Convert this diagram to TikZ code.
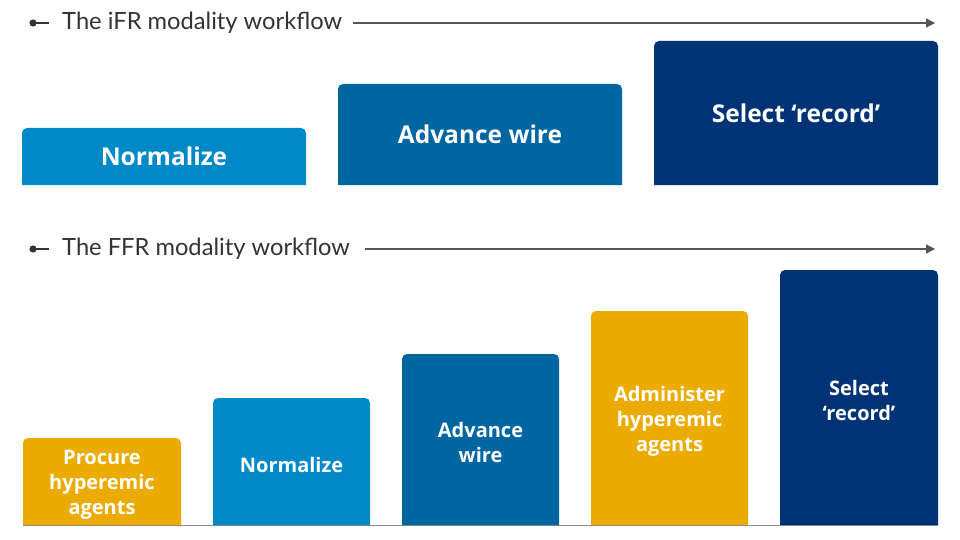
\documentclass[tikz,border=0pt]{standalone}
\usepackage{fontspec}
\setmainfont{Lato}
\newfontfamily\labelfont{Open Sans}
\usetikzlibrary{arrows.meta}
\definecolor{lblue}{RGB}{0,137,200}
\definecolor{mblue}{RGB}{0,102,161}
\definecolor{navy}{RGB}{0,51,117}
\definecolor{gold}{RGB}{235,171,0}
\definecolor{titlegray}{RGB}{51,51,51}
\definecolor{linegray}{RGB}{85,85,85}
\definecolor{basegray}{RGB}{140,140,140}
\tikzset{
  titletext/.style={anchor=west, inner sep=0pt, text=titlegray, font=\fontsize{23.7}{28}\selectfont},
  flowline/.style={draw=linegray, line width=1.3pt},
  flowarrow/.style={flowline, -{Triangle[length=9pt,width=9pt]}},
  bigbox/.style={align=center, text=white, inner sep=0pt, font=\labelfont\bfseries\fontsize{24.5}{28}\selectfont},
  smallbox/.style={align=center, text=white, inner sep=0pt, yshift=-3pt, font=\labelfont\bfseries\fontsize{20}{25}\selectfont},
}
% #1 left, #2 right, #3 top, #4 bottom, #5 colour
\newcommand{\wfshape}[5]{%
  \fill[#5] (#1,#4) [rounded corners=5pt] -- (#1,#3) -- (#2,#3) [sharp corners] -- (#2,#4) -- cycle;}
\begin{document}
\begin{tikzpicture}[x=1pt,y=-1pt]
\useasboundingbox (0,0) rectangle (960,540);
% ---- iFR title
\fill[titlegray] (33,23) circle (3.6pt);
\coordinate (d1) at (33,23);
\coordinate (d1e) at (49,23);
\draw[flowline, titlegray] (d1) -- (d1e);
\node[titletext] (t1) at (62,23) {The iFR modality workflow};
\coordinate (a1s) at (353,23);
\coordinate (a1e) at (935,23);
\draw[flowarrow] (a1s) -- (a1e);
% ---- iFR boxes
\wfshape{22}{306}{128}{185}{lblue}
\wfshape{338}{622}{84}{185}{mblue}
\wfshape{654}{938}{41}{185}{navy}
\node[bigbox] (i1) at (164,156) {Normalize};
\node[bigbox] (i2) at (480,134.5) {Advance wire};
\node[bigbox] (i3) at (796,113) {Select ‘record’};
% ---- FFR title
\fill[titlegray] (33,249) circle (3.6pt);
\coordinate (d2) at (33,249);
\coordinate (d2e) at (49,249);
\draw[flowline, titlegray] (d2) -- (d2e);
\node[titletext] (t2) at (62,249) {The FFR modality workflow};
\coordinate (a2s) at (365,249);
\coordinate (a2e) at (935,249);
\draw[flowarrow] (a2s) -- (a2e);
% ---- FFR boxes
\coordinate (b1) at (23,525.5);
\coordinate (b2) at (938,525.5);
\draw[draw=basegray, line width=1.5pt] (b1) -- (b2);
\wfshape{23}{181}{438}{525}{gold}
\wfshape{213}{370}{398}{525}{lblue}
\wfshape{402}{559}{354}{525}{mblue}
\wfshape{591}{748}{311}{525}{gold}
\wfshape{780}{938}{270}{525}{navy}
\node[smallbox] (f1) at (102,482) {Procure\\hyperemic\\agents};
\node[smallbox] (f2) at (291.5,461.5) {Normalize};
\node[smallbox] (f3) at (480.5,439.5) {Advance\\wire};
\node[smallbox] (f4) at (669.5,418) {Administer\\hyperemic\\agents};
\node[smallbox] (f5) at (859,397.5) {Select\\‘record’};
\end{tikzpicture}
\end{document}
